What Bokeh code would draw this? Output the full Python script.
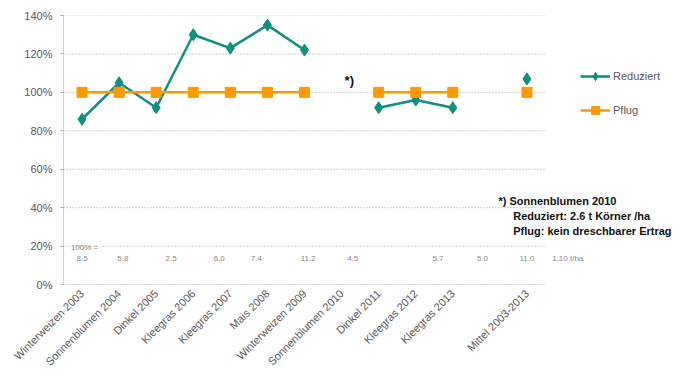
import math

from bokeh.embed import file_html
from bokeh.models import ColumnDataSource, FixedTicker, Label, Legend, LegendItem, Range1d
from bokeh.plotting import figure
from bokeh.resources import INLINE

nan = float("nan")

# Crop sequence of the tillage trial (one empty slot before the mean)
crops = [
    "Winterweizen 2003", "Sonnenblumen 2004", "Dinkel 2005", "Kleegras 2006",
    "Kleegras 2007", "Mais 2008", "Winterweizen 2009", "Sonnenblumen 2010",
    "Dinkel 2011", "Kleegras 2012", "Kleegras 2013", "", "Mittel 2003-2013",
]

# Relative yield in % of the plough treatment
reduziert = [86, 105, 92, 130, 123, 135, 122, nan, 92, 96, 92, nan, 107]
pflug = [100, 100, 100, 100, 100, 100, 100, nan, 100, 100, 100, nan, 100]

pct_ticks = [0, 20, 40, 60, 80, 100, 120, 140]

# Absolute plough yields (100 % = ... t/ha)
yield_labels = ["8.5", "5.8", "2.5", "6.0", "7.4", "11.2", "4.5", "5.7", "5.0", "11.0", "1.10 t/ha"]
yield_label_x = [0.0, 1.1, 2.4, 3.7, 4.7, 6.1, 7.3, 9.6, 10.8, 12.0, 13.1]

footnote = ["*) Sonnenblumen 2010", "Reduziert: 2.6 t Körner /ha", "Pflug: kein dreschbarer Ertrag"]

TEAL = "#0f8f7e"
ORANGE = "#ff9900"
GREY_TXT = "#5a5a5a"
GRID = "#a8a8a8"
FONT = "Liberation Sans"

n = len(crops)
x = list(range(n))
src = ColumnDataSource(dict(x=x, red=reduziert, pfl=pflug))

# The category area spans -0.5 .. n-0.5; the frame continues to the right edge
# so that legend and footnote can sit beside the chart.
x_lo, x_hi = -0.5, n - 0.5
PX_PER_CAT = 482 / n
x_end = x_lo + 620 / PX_PER_CAT

p = figure(
    width=683, height=376,
    x_range=Range1d(x_lo, x_end), y_range=Range1d(0, 140),
    output_backend="svg", toolbar_location=None,
    min_border_left=63, min_border_right=0, min_border_top=15, min_border_bottom=92,
)
p.outline_line_color = None
p.background_fill_color = "white"

# Axes
p.yaxis.ticker = FixedTicker(ticks=pct_ticks)
p.yaxis.major_label_overrides = {t: f"{t}%" for t in pct_ticks}
p.xaxis.ticker = FixedTicker(ticks=x)
p.xaxis.major_label_overrides = {i: c for i, c in enumerate(crops)}
p.xaxis.major_label_orientation = math.pi / 4
for ax in (p.xaxis, p.yaxis):
    ax.axis_line_color = GRID
    ax.axis_line_dash = "1 1"
    ax.major_tick_line_color = GRID
    ax.major_tick_in = 0
    ax.major_tick_out = 3
    ax.minor_tick_line_color = None
    ax.major_label_text_font = FONT
    ax.major_label_text_font_size = "11px"
    ax.major_label_text_color = GREY_TXT
p.xaxis.axis_line_color = None
p.xaxis.major_tick_line_color = None
p.xaxis.major_label_standoff = 4
p.yaxis.major_label_standoff = 8

p.xgrid.grid_line_color = None
p.ygrid.grid_line_color = None

# Horizontal gridlines and category axis line, limited to the category area
p.segment(x0=[x_lo] * len(pct_ticks), x1=[x_hi] * len(pct_ticks), y0=pct_ticks, y1=pct_ticks,
          line_color=GRID, line_dash="1 2", line_width=1)
p.segment(x0=[x_lo], x1=[x_hi], y0=[0], y1=[0], line_color=GRID, line_dash="1 1", line_width=1)

# Series
r_line = p.line("x", "red", source=src, color=TEAL, line_width=2.5)
r_pts = p.scatter("x", "red", source=src, marker="diamond", size=12, color=TEAL)
f_line = p.line("x", "pfl", source=src, color=ORANGE, line_width=2.5)
f_pts = p.scatter("x", "pfl", source=src, marker="square", size=10, color=ORANGE)

legend = Legend(
    items=[
        LegendItem(label="Reduziert", renderers=[r_line, r_pts]),
        LegendItem(label="Pflug", renderers=[f_line, f_pts]),
    ],
    location=(517, 164),
    border_line_color=None,
    background_fill_alpha=0,
    label_text_font=FONT,
    label_text_font_size="11px",
    label_text_color=GREY_TXT,
    glyph_width=30,
    glyph_height=20,
    spacing=14,
    label_standoff=3,
    padding=0,
    margin=0,
)
p.add_layout(legend)

# Absolute yield row
p.add_layout(Label(x=-0.3, y=19.5, text="100% =", text_font=FONT, text_font_size="8px",
                   text_color="#8a8a8a", text_baseline="middle"))
for lx, txt in zip(yield_label_x, yield_labels):
    p.add_layout(Label(x=lx, y=13.5, text=txt, text_font=FONT, text_font_size="8px",
                       text_color="#8a8a8a", text_align="center", text_baseline="middle"))

# Footnote marker at the missing sunflower year
p.add_layout(Label(x=7, y=106, x_offset=3, text="*)", text_font=FONT, text_font_size="13px",
                   text_font_style="bold", text_color="#111111", text_baseline="middle"))

# Footnote block
fn_y = [43.7, 35.9, 28.1]
fn_x = [11.23, 11.63, 11.63]
for fx, fy, txt in zip(fn_x, fn_y, footnote):
    p.add_layout(Label(x=fx, y=fy, text=txt, text_font=FONT, text_font_size="11px",
                       text_font_style="bold", text_color="#111111", text_baseline="middle"))

open("out.html", "w").write(file_html(p, INLINE))
